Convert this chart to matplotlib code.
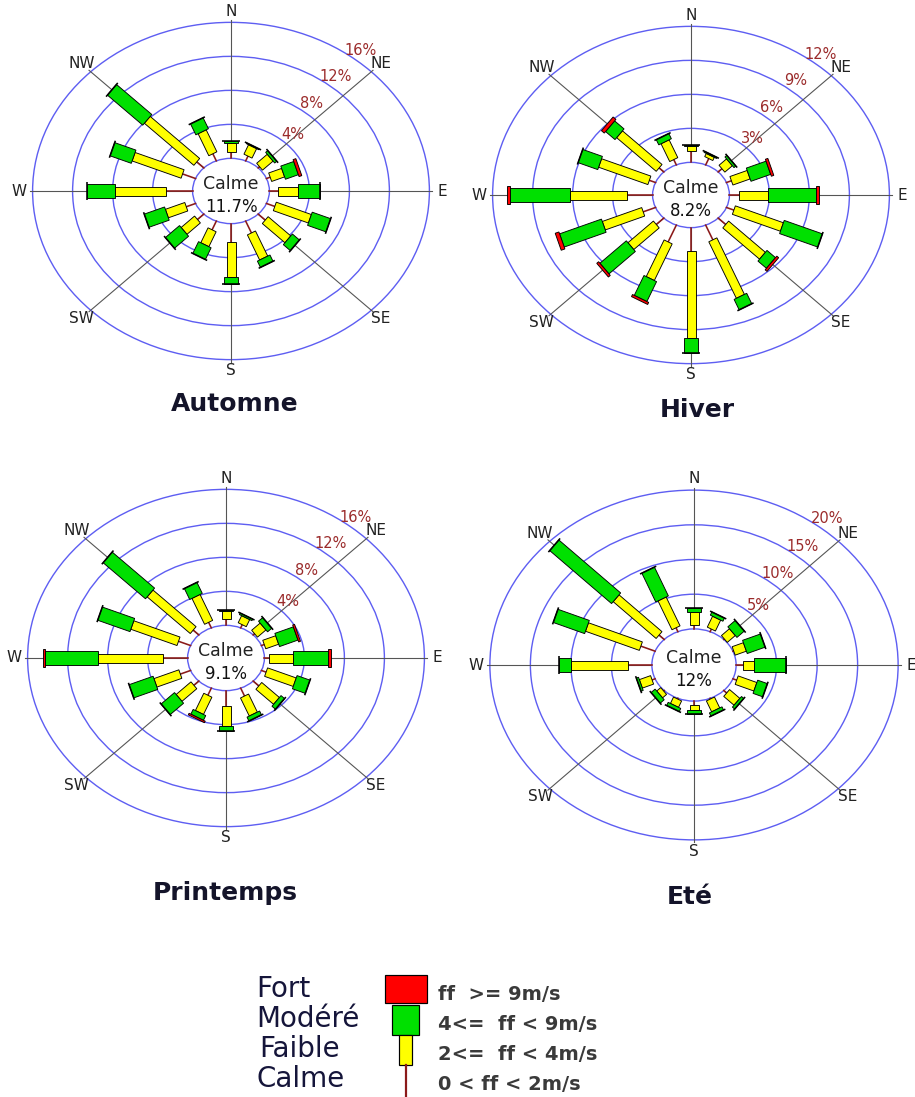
"""Seasonal wind roses (Automne, Hiver, Printemps, Eté) with speed classes."""

import matplotlib

matplotlib.use("Agg")
import matplotlib.pyplot as plt
import numpy as np
from matplotlib.patches import Ellipse, Polygon, Rectangle

FIG_W, FIG_H = 915, 1097

DIRECTIONS = ["N", "NNE", "NE", "ENE", "E", "ESE", "SE", "SSE",
              "S", "SSW", "SW", "WSW", "W", "WNW", "NW", "NNW"]
AXIS_LABELS = ["N", "NE", "E", "SE", "S", "SW", "W", "NW"]

SEASONS = ["Automne", "Hiver", "Printemps", "Eté"]
CALM_TOTAL = ["11.7%", "8.2%", "9.1%", "12%"]
RING_STEP = [4, 3, 4, 5]  # % per ring

# frequency (%) per direction: calme (0-2), faible (2-4), modere (4-9), fort (>=9)
AUTOMNE_CALME = [0.8, 0.6, 0.2, 0.4, 0.9, 0.9, 1.0, 1.5, 2.2, 1.1, 0.9, 1.0, 2.7, 1.4, 1.0, 0.9]
AUTOMNE_FAIBLE = [1.0, 1.2, 1.5, 1.4, 2.0, 3.8, 3.2, 3.2, 4.1, 1.9, 1.9, 2.1, 5.1, 5.3, 7.0, 2.8]
AUTOMNE_MODERE = [0.2, 0.1, 0.3, 1.4, 2.2, 2.0, 1.0, 0.8, 0.8, 1.5, 2.0, 2.2, 2.8, 2.3, 5.0, 1.4]
AUTOMNE_FORT = [0, 0, 0, 0.3, 0, 0, 0, 0, 0, 0, 0, 0, 0, 0, 0, 0]

HIVER_CALME = [1.0, 0.6, 0.4, 0.4, 0.7, 0.6, 0.8, 1.4, 2.1, 1.6, 0.8, 1.0, 1.9, 0.5, 0.5, 0.5]
HIVER_FAIBLE = [0.4, 0.3, 0.8, 1.4, 2.2, 3.9, 3.9, 5.4, 7.6, 3.5, 2.7, 3.2, 4.3, 4.0, 4.2, 1.7]
HIVER_MODERE = [0.1, 0.1, 0.2, 1.6, 3.6, 3.1, 0.9, 1.0, 1.4, 1.9, 2.8, 3.4, 4.5, 1.6, 1.0, 0.5]
HIVER_FORT = [0, 0, 0, 0.2, 0.2, 0, 0.2, 0, 0, 0.2, 0.2, 0.3, 0.2, 0, 0.3, 0]

PRINTEMPS_CALME = [0.8, 0.4, 0.2, 0.3, 0.5, 0.5, 0.8, 1.0, 1.8, 0.9, 0.7, 1.1, 2.5, 1.3, 0.8, 0.7]
PRINTEMPS_FAIBLE = [0.9, 0.9, 1.2, 1.4, 2.4, 3.1, 2.5, 2.3, 2.4, 2.2, 2.1, 2.7, 6.5, 5.0, 6.1, 3.3]
PRINTEMPS_MODERE = [0.1, 0.2, 0.6, 2.0, 3.5, 1.4, 0.5, 0.5, 0.6, 0.6, 1.9, 2.6, 5.3, 3.5, 6.0, 1.4]
PRINTEMPS_FORT = [0, 0, 0, 0.2, 0.3, 0, 0, 0, 0, 0.2, 0, 0, 0.2, 0, 0, 0]

ETE_CALME = [0.6, 0.4, 0.1, 0.1, 0.8, 0.5, 0.5, 0.1, 0.6, 0.1, 0.1, 0.4, 2.9, 1.9, 0.9, 0.6]
ETE_FAIBLE = [1.9, 1.7, 1.4, 1.5, 1.4, 2.5, 1.8, 1.7, 0.7, 1.0, 0.7, 1.5, 7.1, 7.2, 7.5, 4.5]
ETE_MODERE = [0.5, 0.5, 1.3, 2.4, 3.9, 1.3, 0.4, 0.5, 0.5, 0.5, 0.7, 0.3, 1.5, 4.2, 10.8, 4.5]
ETE_FORT = [0] * 16

SEASON_DATA = [
    (AUTOMNE_CALME, AUTOMNE_FAIBLE, AUTOMNE_MODERE, AUTOMNE_FORT),
    (HIVER_CALME, HIVER_FAIBLE, HIVER_MODERE, HIVER_FORT),
    (PRINTEMPS_CALME, PRINTEMPS_FAIBLE, PRINTEMPS_MODERE, PRINTEMPS_FORT),
    (ETE_CALME, ETE_FAIBLE, ETE_MODERE, ETE_FORT),
]

LEGEND_NAMES = ["Fort", "Modéré", "Faible", "Calme"]
LEGEND_RANGES = ["ff  >= 9m/s", "4<=  ff < 9m/s", "2<=  ff < 4m/s", "0 < ff < 2m/s"]

# layout (pixels): rose centre, px per ring horizontally / vertically, calm radius (rings)
PANELS = [
    dict(center=(231, 191), sx=40.0, sy=34.0, r0=0.96, title=(235, 404)),
    dict(center=(691, 195), sx=40.0, sy=34.0, r0=0.96, title=(697, 410)),
    dict(center=(226, 658), sx=40.0, sy=34.0, r0=0.96, title=(225, 893)),
    dict(center=(694, 665), sx=40.5, sy=34.7, r0=1.04, title=(690, 897)),
]

RING_COLOR = "#5e5ef2"
AXIS_COLOR = "#555555"
PCT_COLOR = "#9b2b2b"
CALM_LINE = "#8b1a1a"
YELLOW = "#ffff00"
GREEN = "#00e000"
RED = "#ff0000"
PX = 0.72  # points per pixel at dpi 100


def bar_segment(ax, u, n, r_start, r_end, width, color):
    p = [r_start * u + n * width / 2, r_end * u + n * width / 2,
         r_end * u - n * width / 2, r_start * u - n * width / 2]
    ax.add_patch(Polygon(p, closed=True, facecolor=color, edgecolor="black",
                         linewidth=0.9 * PX, zorder=5))


def draw_rose(ax, data, step, calm_text, sx, sy, r0):
    calme, faible, modere, fort = data
    r_out = r0 + 4

    # rings
    for k in range(1, 5):
        r = r0 + k
        ax.add_patch(Ellipse((0, 0), 2 * r * sx, 2 * r * sy, fill=False,
                             edgecolor=RING_COLOR, linewidth=1.4 * PX, zorder=1))
        ang = np.deg2rad(47 if k == 1 else 52)
        ax.text((r + 0.3) * sx * np.cos(ang), (r + 0.3) * sy * np.sin(ang),
                f"{k * step}%", color=PCT_COLOR, fontsize=10.5,
                ha="center", va="center", zorder=6)

    # compass axes and labels
    for k, lab in enumerate(AXIS_LABELS):
        th = np.deg2rad(90 - 45 * k)
        ax.plot([0, (r_out + 0.06) * sx * np.cos(th)], [0, (r_out + 0.06) * sy * np.sin(th)],
                color=AXIS_COLOR, linewidth=1.1 * PX, zorder=2)
        ax.text((r_out + 0.33) * sx * np.cos(th), (r_out + 0.33) * sy * np.sin(th), lab,
                fontsize=11, color="#222222", ha="center", va="center", zorder=6)

    # calm circle
    ax.add_patch(Ellipse((0, 0), 2 * r0 * sx, 2 * r0 * sy, facecolor="white",
                         edgecolor=RING_COLOR, linewidth=1.4 * PX, zorder=3))
    ax.text(0, 7, "Calme", fontsize=12.5, ha="center", va="center", color="#222222", zorder=6)
    ax.text(0, -16, calm_text, fontsize=12, ha="center", va="center", color="#111111", zorder=6)

    # bars
    for i in range(len(DIRECTIONS)):
        th = np.deg2rad(90 - 22.5 * i)
        u = np.array([sx * np.cos(th), sy * np.sin(th)])
        d = u / np.linalg.norm(u)
        n = np.array([-d[1], d[0]])
        r_a = r0
        r_b = r_a + calme[i] / step
        r_c = r_b + faible[i] / step
        r_d = r_c + modere[i] / step
        r_e = r_d + fort[i] / step
        ax.plot([r_a * u[0], r_b * u[0]], [r_a * u[1], r_b * u[1]],
                color=CALM_LINE, linewidth=1.6 * PX, zorder=4)
        bar_segment(ax, u, n, r_b, r_c, 9, YELLOW)
        bar_segment(ax, u, n, r_c, r_d, 14, GREEN)
        if fort[i] > 0:
            bar_segment(ax, u, n, r_d, r_e, 18, RED)
        else:
            c0 = r_d * u + n * 9
            c1 = r_d * u - n * 9
            ax.plot([c0[0], c1[0]], [c0[1], c1[1]], color="black",
                    linewidth=1.6 * PX, zorder=6, solid_capstyle="butt")


fig = plt.figure(figsize=(FIG_W / 100, FIG_H / 100), dpi=100)
fig.patch.set_facecolor("white")

# background axes in pixel coordinates for titles and legend
bg = fig.add_axes([0, 0, 1, 1])
bg.set_xlim(0, FIG_W)
bg.set_ylim(FIG_H, 0)
bg.axis("off")

HALF = 230
for season, data, step, calm_text, panel in zip(SEASONS, SEASON_DATA, RING_STEP, CALM_TOTAL, PANELS):
    cx, cy = panel["center"]
    ax = fig.add_axes([(cx - HALF) / FIG_W, 1 - (cy + HALF) / FIG_H,
                       2 * HALF / FIG_W, 2 * HALF / FIG_H])
    ax.set_xlim(-HALF, HALF)
    ax.set_ylim(-HALF, HALF)
    ax.axis("off")
    ax.patch.set_alpha(0)
    draw_rose(ax, data, step, calm_text, panel["sx"], panel["sy"], panel["r0"])
    tx, ty = panel["title"]
    bg.text(tx, ty, season, fontsize=18, fontweight="bold", color="#14142a",
            ha="center", va="center")

# legend
bg.add_patch(Rectangle((385, 975), 42, 28, facecolor=RED, edgecolor="black", linewidth=1.2 * PX))
bg.add_patch(Rectangle((392, 1005), 27, 30, facecolor=GREEN, edgecolor="black", linewidth=1.2 * PX))
bg.add_patch(Rectangle((399, 1035), 13, 30, facecolor=YELLOW, edgecolor="black", linewidth=1.2 * PX))
bg.plot([405.5, 405.5], [1065, 1096], color=CALM_LINE, linewidth=2.2 * PX)

for k, (name, rng) in enumerate(zip(LEGEND_NAMES, LEGEND_RANGES)):
    y = 989 + 30 * k
    bg.text(256 if k != 2 else 259, y, name, fontsize=20, color="#15153a", ha="left", va="center")
    bg.text(438, y + 6, rng, fontsize=14, fontweight="bold", color="#3a3a3a",
            ha="left", va="center")

fig.savefig("out.png", dpi=100, facecolor="white")
